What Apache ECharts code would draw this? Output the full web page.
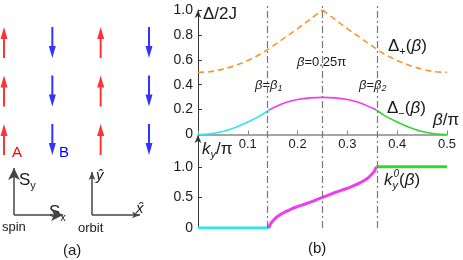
<!DOCTYPE html>
<html><head><meta charset="utf-8">
<script src="https://cdn.jsdelivr.net/npm/echarts@6/dist/echarts.min.js"></script>
<style>html,body{margin:0;padding:0;background:#fff}#c{width:463px;height:260px}</style>
</head><body><div id="c"></div>
<script>
// ---- panel (b) data ----
const beta1 = 0.143, beta2 = 0.358;
const vLines = [beta1, 0.25, beta2];
const dpLeftX  = [0, 0.025, 0.05, 0.075, 0.1, 0.125, 0.15, 0.175, 0.2, 0.225, 0.25];
const dpLeft   = [0.50, 0.505, 0.525, 0.555, 0.595, 0.645, 0.71, 0.78, 0.85, 0.925, 1.0];
const dpRightX = [0.25, 0.275, 0.3, 0.325, 0.35, 0.375, 0.4, 0.425, 0.45, 0.475, 0.5];
const dpRight  = [1.0, 0.925, 0.85, 0.78, 0.71, 0.645, 0.595, 0.555, 0.525, 0.505, 0.50];
const dmCyanX  = [0, 0.025, 0.05, 0.075, 0.1, 0.125, 0.143];
const dmCyan   = [0, 0.006, 0.024, 0.056, 0.10, 0.152, 0.197];
const dmMagX   = [0.143, 0.15, 0.175, 0.2, 0.225, 0.25, 0.275, 0.3, 0.325, 0.35, 0.358];
const dmMag    = [0.197, 0.212, 0.255, 0.281, 0.294, 0.298, 0.294, 0.281, 0.255, 0.212, 0.197];
const dmGreenX = [0.358, 0.375, 0.4, 0.425, 0.45, 0.475, 0.5];
const dmGreen  = [0.197, 0.152, 0.10, 0.056, 0.024, 0.006, 0];
const kCyanX   = [0, 0.143];
const kCyan    = [0, 0];
const kMagX    = [0.143, 0.1435, 0.145, 0.148, 0.152, 0.159, 0.168, 0.176, 0.186, 0.196, 0.21, 0.223, 0.237, 0.25,
                  0.263, 0.277, 0.29, 0.304, 0.314, 0.324, 0.332, 0.341, 0.348, 0.352, 0.355, 0.3565, 0.358];
const kMag     = [0, 0.03, 0.06, 0.095, 0.13, 0.185, 0.232, 0.267, 0.305, 0.339, 0.378, 0.415, 0.458, 0.5,
                  0.542, 0.585, 0.622, 0.661, 0.695, 0.733, 0.768, 0.815, 0.87, 0.905, 0.94, 0.97, 1.0];
const kGreenX  = [0.358, 0.5];
const kGreen   = [1, 1];
const topYTicks = [0, 0.2, 0.4, 0.6, 0.8, 1.0];
const botYTicks = [0, 0.5, 1.0];
const xTicks = [0.1, 0.2, 0.3, 0.4, 0.5];
// ---- panel (a) data ----
const upCols = [0, 2];
const downCols = [1, 3];
const rows = [0, 1, 2];
const spinAxes = [[[0, 0], [0, 1]], [[0, 0], [0.39, 0]]];
const orbitAxes = [[[0.619, 0], [0.619, 0.915]], [[0.619, 0], [1.0, 0]]];

const FF = 'Liberation Sans';
const pair = (xs, ys) => xs.map((x, i) => [x, ys[i]]);
const fmt = v => v === 0 ? '0' : v.toFixed(1);
const arrowPath = 'path://M3.5,0L7,12L4.5,12L4.5,31L2.5,31L2.5,12L0,12Z';

function lineS(xs, ys, color, width, grid, extra) {
  return Object.assign({
    type: 'line', xAxisIndex: grid, yAxisIndex: grid, data: pair(xs, ys),
    showSymbol: false, symbol: 'none', smooth: 0.35, silent: true,
    lineStyle: { color, width }
  }, extra || {});
}
const hidden = (i, min, max) => ({ gridIndex: i, type: 'value', min, max, show: false });

function txt(x, y, text, rich, extra) {
  return Object.assign({
    type: 'text', x, y, silent: true,
    style: { text, rich, font: '17px "' + FF + '"', fill: '#1a1a1a',
      align: 'left', verticalAlign: 'middle', textAlign: 'left', textVerticalAlign: 'middle' }
  }, extra || {});
}
function plain(x, y, text, font, color) {
  return { type: 'text', x, y, silent: true,
    style: { text, font: font + ' "' + FF + '"', fill: color || '#1a1a1a',
      align: 'left', verticalAlign: 'middle', textAlign: 'left', textVerticalAlign: 'middle' } };
}
const R = {
  m: { fontSize: 17, lineHeight: 22, fontFamily: FF, fill: '#1a1a1a' },
  i: { fontSize: 17, lineHeight: 22, fontFamily: FF, fontStyle: 'italic', fill: '#1a1a1a' },
  s: { fontSize: 11, lineHeight: 11, fontFamily: FF, verticalAlign: 'bottom', fill: '#1a1a1a' },
  sy: { fontSize: 11, lineHeight: 11, fontFamily: FF, fontStyle: 'italic', verticalAlign: 'bottom', fill: '#1a1a1a' },
  si: { fontSize: 11, lineHeight: 11, fontFamily: FF, fontStyle: 'italic', verticalAlign: 'bottom', fill: '#1a1a1a', width: 1 },
  sp: { fontSize: 10, lineHeight: 10, fontFamily: FF, fontStyle: 'italic', verticalAlign: 'top', fill: '#1a1a1a' },
  m13: { fontSize: 13, lineHeight: 16, fontFamily: FF, fill: '#1a1a1a' },
  i13: { fontSize: 13, lineHeight: 16, fontFamily: FF, fontStyle: 'italic', fill: '#1a1a1a' },
  s13: { fontSize: 9, lineHeight: 9, fontFamily: FF, fontStyle: 'italic', verticalAlign: 'bottom', fill: '#1a1a1a' }
};

const chart = echarts.init(document.getElementById('c'), null, { renderer: 'canvas' });
chart.setOption({
  animation: false,
  backgroundColor: '#fff',
  grid: [
    { left: 198, right: 16, top: 10, bottom: 125.5 },
    { left: 198, right: 16, top: 135, bottom: 32 },
    { left: 198, right: 16, top: 5, bottom: 32 },
    { left: 4, top: 42.5, width: 145, height: 97 },
    { left: 14, top: 168, width: 126, height: 47 }
  ],
  xAxis: [
    { gridIndex: 0, type: 'value', min: 0, max: 0.5, interval: 0.1,
      axisLine: { show: true, lineStyle: { color: '#888', width: 1.5 } },
      axisTick: { show: true, inside: true, length: 4, lineStyle: { color: '#888' } },
      axisLabel: { margin: 3, fontSize: 13, fontFamily: FF, color: '#1a1a1a', customValues: xTicks, formatter: fmt },
      splitLine: { show: false } },
    hidden(1, 0, 0.5), hidden(2, 0, 0.5), hidden(3, 0, 3), hidden(4, 0, 1)
  ],
  yAxis: [
    { gridIndex: 0, type: 'value', min: 0, max: 1, interval: 0.2,
      axisLine: { show: true, symbol: ['none', 'arrow'], symbolSize: [5, 8], lineStyle: { color: '#333', width: 1 } },
      axisTick: { show: true, inside: true, length: 4, lineStyle: { color: '#333' } },
      axisLabel: { margin: 5, fontSize: 14, fontFamily: FF, color: '#1a1a1a', customValues: topYTicks, formatter: fmt },
      splitLine: { show: false } },
    { gridIndex: 1, type: 'value', min: 0, max: 1.52,
      axisLine: { show: true, symbol: ['none', 'arrow'], symbolSize: [5, 8], lineStyle: { color: '#333', width: 1 } },
      axisTick: { show: true, inside: true, length: 4, customValues: botYTicks, lineStyle: { color: '#333' } },
      axisLabel: { margin: 5, fontSize: 14, fontFamily: FF, color: '#1a1a1a', customValues: botYTicks, formatter: fmt },
      splitLine: { show: false } },
    hidden(2, 0, 1), hidden(3, 0, 2), hidden(4, 0, 1)
  ],
  series: [
    // vertical dash-dot lines
    { type: 'line', xAxisIndex: 2, yAxisIndex: 2, data: [[0, 0]], symbol: 'none', lineStyle: { opacity: 0 }, silent: true,
      markLine: { silent: true, symbol: ['none', 'none'], label: { show: false },
        lineStyle: { color: '#777', width: 1.2, type: [7, 3, 2, 3] },
        data: vLines.map(v => ({ xAxis: v })) } },
    lineS(dpLeftX, dpLeft, '#f7952a', 1.6, 0, { lineStyle: { color: '#f7952a', width: 1.6, type: [6, 4] } }),
    lineS(dpRightX, dpRight, '#f7952a', 1.6, 0, { lineStyle: { color: '#f7952a', width: 1.6, type: [6, 4] } }),
    lineS(dmCyanX, dmCyan, '#2de6f0', 1.6, 0),
    lineS(dmMagX, dmMag, '#f03cf0', 1.6, 0),
    lineS(dmGreenX, dmGreen, '#2ed82e', 1.6, 0),
    lineS(kCyanX, kCyan, '#2de6f0', 3, 1),
    lineS(kMagX, kMag, '#f03cf0', 3, 1, { smooth: 0.2 }),
    lineS(kGreenX, kGreen, '#2ed82e', 3, 1),
    // panel (a) spin arrows
    { type: 'scatter', xAxisIndex: 3, yAxisIndex: 3, silent: true, symbol: arrowPath, symbolSize: [7, 31],
      itemStyle: { color: '#ff0000' }, data: upCols.flatMap(c => rows.map(r => [c, r])) },
    { type: 'scatter', xAxisIndex: 3, yAxisIndex: 3, silent: true, symbol: arrowPath, symbolSize: [7, 31], symbolRotate: 180,
      itemStyle: { color: '#0000ff' }, data: downCols.flatMap(c => rows.map(r => [c, r])) },
    // spin / orbit frames
    { type: 'line', xAxisIndex: 4, yAxisIndex: 4, data: [[0, 0]], symbol: 'none', lineStyle: { opacity: 0 }, silent: true,
      markLine: { silent: true, label: { show: false }, animation: false,
        lineStyle: { color: '#444', width: 1.5, type: 'solid' },
        data: spinAxes.map(s => [{ coord: s[0], symbol: 'none' }, { coord: s[1], symbol: 'arrow', symbolSize: [9, 12] }])
          .concat(orbitAxes.map(s => [{ coord: s[0], symbol: 'none' }, { coord: s[1], symbol: 'arrow', symbolSize: [5, 8] }])) } }
  ],
  graphic: [
    txt(203, 14, '{m|Δ/2J}', R),
    txt(433, 120, '{i|β}{m|/π}', R),
    txt(388, 46, '{m|Δ}{s|+}{m|(}{i|β}{m|)}', R),
    txt(387, 108, '{m|Δ}{s|−}{m|(}{i|β}{m|)}', R),
    txt(255, 85, '{i13|β}{m13|=}{i13|β}{s13|1}', R),
    txt(297, 62, '{i13|β}{m13|=0.25π}', R),
    txt(359, 85, '{i13|β}{m13|=}{i13|β}{s13|2}', R),
    txt(202, 149, '{i|k}{sy|y}{m|/π}', R),
    txt(384, 180, '{i|k}{si|y}{sp|0}{m|(}{i|β}{m|)}', R),
    plain(308, 249, '(b)', '15px'),
    plain(63, 251, '(a)', '15px'),
    plain(2, 227, 'spin', '13px'),
    plain(78, 228, 'orbit', '13px'),
    txt(19, 180, '{m|S}{s|y}', R),
    txt(49, 212, '{m|S}{s|x}', R),
    plain(96, 176, 'ŷ', 'italic 15px'),
    plain(136, 209, 'x̂', 'italic 15px'),
    plain(12, 153, 'A', '15px', '#ff0000'),
    plain(59, 153, 'B', '15px', '#0000ff')
  ]
});
</script></body></html>
